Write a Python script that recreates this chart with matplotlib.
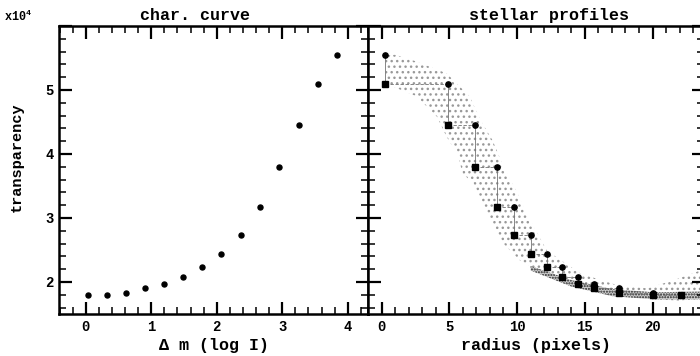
import numpy as np
import matplotlib.pyplot as plt
from matplotlib.ticker import MultipleLocator, FuncFormatter

plt.rcParams['font.family'] = ['Liberation Mono', 'DejaVu Sans']
plt.rcParams['font.weight'] = 'bold'
plt.rcParams['mathtext.fontset'] = 'custom'
plt.rcParams['mathtext.bf'] = 'Liberation Mono:bold'
plt.rcParams['hatch.linewidth'] = 1.0

# characteristic curve: magnitude step vs transparency
dm = [0.03, 0.32, 0.61, 0.90, 1.20, 1.49, 1.78, 2.07, 2.37, 2.66, 2.95, 3.25, 3.54, 3.83]
transp = [17900, 17900, 18300, 19100, 19700, 20800, 22300, 24400, 27300, 31700,
          37900, 44600, 51000, 55400]

# stellar profile steps (radius of each level, highest level first)
radius = [0.25, 4.9, 6.9, 8.5, 9.8, 11.0, 12.2, 13.3, 14.5, 15.7, 17.5, 20.0, 22.1]
levels = transp[::-1]

# envelope of the pixel cloud
cloud_r_up = [0.3, 1.0, 2.5, 4.8, 6.5, 7.3, 8.2, 9.0, 10.0, 10.7, 12.2, 14.7, 17.1, 19.6, 21.6, 23.8]
cloud_v_up = [55400, 55500, 54500, 52600, 49000, 45300, 42100, 38000, 34000, 30700,
              24900, 21300, 19700, 19000, 20300, 22000]
cloud_r_lo = [0.3, 2.6, 4.1, 4.8, 5.6, 6.0, 6.8, 7.8, 9.0, 10.2, 12.0, 14.4, 16.9, 19.4, 21.9, 23.8]
cloud_v_lo = [51000, 49000, 45800, 42700, 40000, 36900, 35400, 30700, 26000, 23400,
              21300, 19200, 17900, 17400, 17100, 17400]
# denser core at large radius
core_r = [11.0, 14.0, 17.0, 20.0, 23.8, 23.8, 20.0, 17.0, 14.0, 11.0]
core_v = [22500, 20300, 18900, 18400, 18500, 17300, 17300, 17800, 19300, 21800]

fig = plt.figure(figsize=(7, 3.56), dpi=100)
ax1 = fig.add_axes([0.0843, 0.118, 0.4414, 0.809])
ax2 = fig.add_axes([0.5257, 0.118, 0.480, 0.809], sharey=ax1)

ax1.plot(dm, transp, 'o', color='black', ms=3.6)

poly_r = cloud_r_up + cloud_r_lo[::-1]
poly_v = cloud_v_up + cloud_v_lo[::-1]
ax2.fill(poly_r, poly_v, facecolor='none', edgecolor='0.6', hatch='...', linewidth=0)
ax2.fill(core_r, core_v, facecolor='0.8', edgecolor='0.15', hatch='......', linewidth=0)

for i in range(len(radius)):
    ax2.plot([radius[i], radius[i]], [levels[i], levels[i + 1]], '-', color='0.45', lw=0.6)
    if i + 1 < len(radius):
        ax2.plot([radius[i], radius[i + 1]], [levels[i + 1], levels[i + 1]], '--',
                 color='0.45', lw=0.6, dashes=(4, 2))
ax2.plot(radius, levels[:-1], 'o', color='black', ms=3.8)
ax2.plot(radius, levels[1:], 's', color='black', ms=5)

ax1.set_xlim(-0.41, 4.31)
ax1.set_ylim(15000, 60000)
ax2.set_xlim(-1.0, 23.8)

for ax in (ax1, ax2):
    for s in ax.spines.values():
        s.set_linewidth(1.8)
    ax.tick_params(which='both', direction='in', top=True, right=True, labelsize=10,
                   pad=4)
    ax.tick_params(which='major', length=9, width=1.6)
    ax.tick_params(which='minor', length=5, width=1.1)
    ax.yaxis.set_major_locator(MultipleLocator(10000))
    ax.yaxis.set_minor_locator(MultipleLocator(2000))

ax1.xaxis.set_major_locator(MultipleLocator(1))
ax1.xaxis.set_minor_locator(MultipleLocator(0.2))
ax2.xaxis.set_major_locator(MultipleLocator(5))
ax2.xaxis.set_minor_locator(MultipleLocator(1))
ax1.yaxis.set_major_formatter(
    FuncFormatter(lambda v, p: '' if v >= 60000 else '%d' % round(v / 10000)))
ax2.tick_params(labelleft=False)

ax1.set_title('char. curve', fontsize=12, fontweight='bold', pad=4, x=0.44)
ax2.set_title('stellar profiles', fontsize=12, fontweight='bold', pad=4, x=0.54)
ax1.set_xlabel('Δ m (log I)', fontsize=12, fontweight='bold', labelpad=3)
ax2.set_xlabel('radius (pixels)', fontsize=12, fontweight='bold', labelpad=3)
fig.text(0.024, 0.559, 'transparency', rotation=90, fontsize=11, fontweight='bold',
         ha='center', va='center')
fig.text(0.006, 0.94, r'x10$^{\mathbf{4}}$', fontsize=8.5, fontweight='bold')

fig.savefig('out.png', dpi=100)
